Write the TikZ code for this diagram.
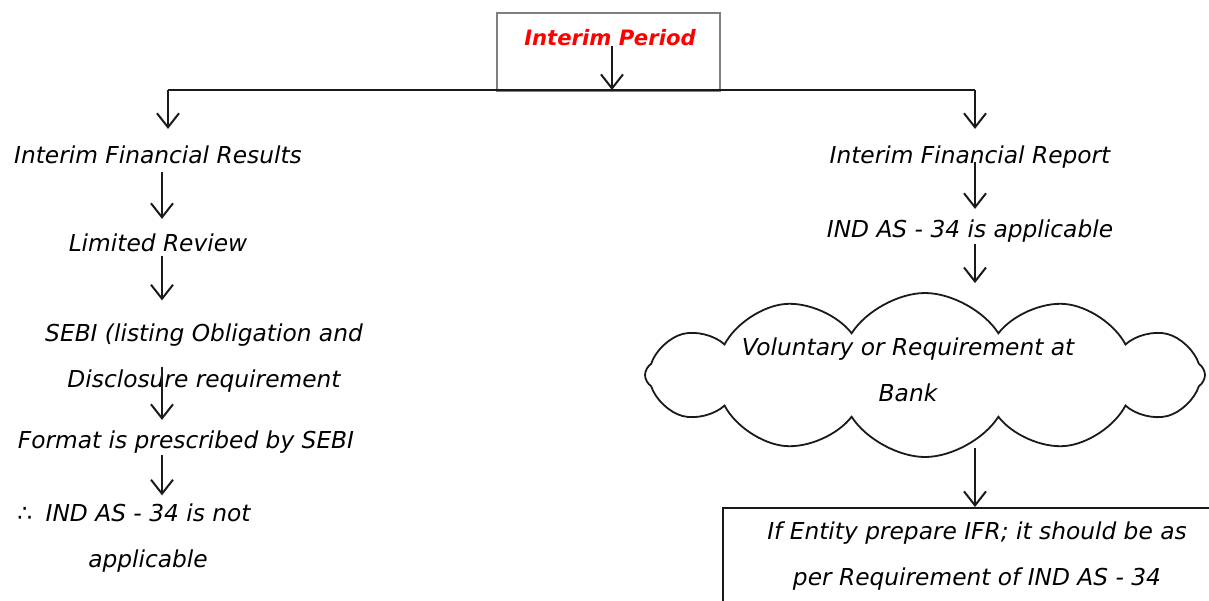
\documentclass[tikz,border=0pt]{standalone}
\usepackage{fontspec}
\setmainfont{DejaVu Sans}
\usetikzlibrary{arrows.meta, positioning, shapes.symbols}
\definecolor{pred}{HTML}{FF0000}
\definecolor{pgray}{HTML}{7F7F7F}
\definecolor{pink}{HTML}{1A1A1A}
\tikzset{
  >={Straight Barb[length=7pt,width=11pt]},
  font=\fontsize{11.65}{13}\selectfont\itshape,
  txt/.style={inner sep=0pt, anchor=base},
  twoline/.style={inner sep=0pt, align=center, font=\fontsize{11.65}{23}\selectfont\itshape},
  title/.style={inner sep=0pt, anchor=base, text=pred, font=\fontsize{10.6}{12}\selectfont\bfseries\itshape},
  topbox/.style={draw=pgray, line width=1pt, minimum width=111.5pt, minimum height=39pt},
  endbox/.style={draw=pink, line width=1pt, minimum width=258.5pt, minimum height=66pt},
  puff/.style={cloud, cloud puffs=12, cloud puff arc=115, aspect=3.4, draw=pink,
    line width=0.9pt, minimum width=280pt, minimum height=82pt},
  link/.style={draw=pink, line width=1pt},
  arr/.style={->, draw=pink, line width=1pt}
}
\begin{document}
\begin{tikzpicture}[x=0.5pt,y=-0.5pt]
  \clip (0,0) rectangle (1209,600);
  \fill[white] (0,0) rectangle (1209,600);

  % top of the chart
  \node[topbox] (top) at (608,52) {};
  \node[title] (ttl) at (610,45) {Interim Period};
  \coordinate (split) at (612,90);
  \coordinate (lft) at (168,90);
  \coordinate (rgt) at (975,90);
  \coordinate (colL) at (162,0);
  \draw[link] (lft) -- (rgt);
  \draw[arr] (ttl.south -| split) -- (split);

  % left branch
  \node[txt] (results) at (158,163) {Interim Financial Results};
  \node[txt] (review) at (158,251) {Limited Review};
  \node[twoline] (sebi) at (204,358) {SEBI (listing Obligation and\\Disclosure requirement};
  \node[txt] (format) at (186,448) {Format is prescribed by SEBI};
  \node[twoline] (notapp) at (134,538) {∴\hspace{3pt} IND AS - 34 is not\\\hspace{14pt}applicable};

  \draw[arr] (lft) -- ([yshift=8pt]results.north -| lft);
  \draw[arr] ([yshift=-4pt]results.south -| colL) -- ([yshift=7pt]review.north -| colL);
  \draw[arr] ([yshift=-2pt]review.south -| colL) -- ([yshift=11.5pt]sebi.north -| colL);
  \draw[arr] ([yshift=13pt]sebi.south -| colL) -- ([yshift=5pt]format.north -| colL);
  \draw[arr] ([yshift=-1pt]format.south -| colL) -- ([yshift=4pt]notapp.north -| colL);

  % right branch
  \node[txt] (report) at (970,163) {Interim Financial Report};
  \node[txt] (indas) at (970,237) {IND AS - 34 is applicable};
  \node[puff] (cld) at (925,375) {};
  \node[twoline] (cldtxt) at (908,370) {Voluntary or Requirement at\\Bank};
  \node[endbox] (ifr) at (981,574) {};
  \node[twoline] (ifrtxt) at (977,556) {If Entity prepare IFR; it should be as\\per Requirement of IND AS - 34};

  \draw[arr] (rgt) -- ([yshift=8pt]report.north -| rgt);
  \draw[arr] ([yshift=3pt]report.south -| rgt) -- ([yshift=5pt]indas.north -| rgt);
  \draw[arr] ([yshift=-1pt]indas.south -| rgt) -- ([yshift=4.5pt]cld.north -| rgt);
  \draw[arr] ([yshift=5pt]cld.south -| rgt) -- (ifr.north -| rgt);
\end{tikzpicture}
\end{document}
